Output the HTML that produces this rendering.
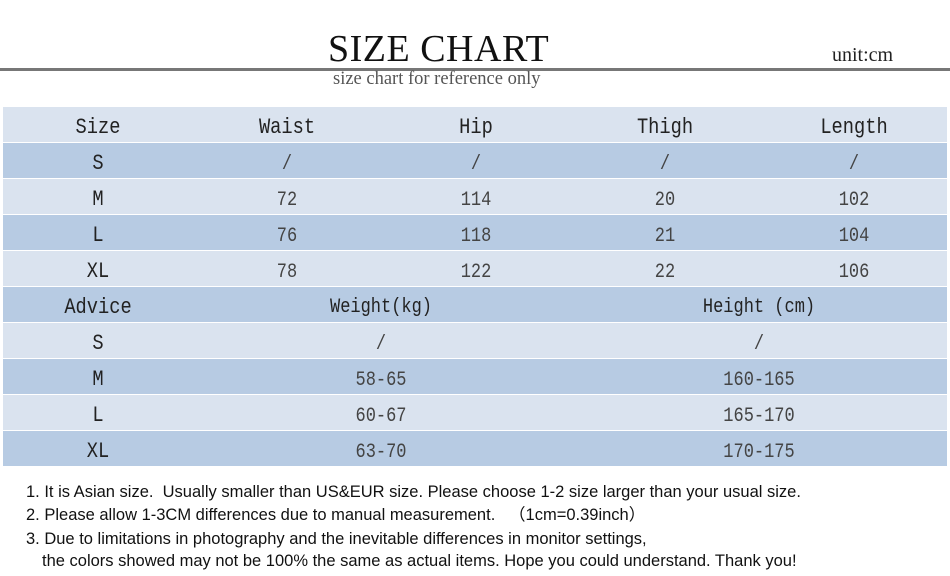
<!DOCTYPE html>
<html><head><meta charset="utf-8"><style>
body{margin:0;width:950px;height:576px;background:#fff;position:relative;overflow:hidden;font-family:"Liberation Serif",serif;}
.t{position:absolute;white-space:nowrap;}
.row{position:absolute;left:3px;width:944px;height:35px;}
.c{position:absolute;transform:translateX(-50%) scaleX(0.85);font-family:"Liberation Mono",monospace;font-size:22px;color:#222;top:8px;white-space:nowrap;}
.v{font-size:20px;color:#444;top:10px;}
.foot{position:absolute;left:26px;font-family:"Liberation Sans",sans-serif;font-size:16.5px;line-height:20px;height:20px;color:#111;white-space:nowrap;}
</style></head><body>
<div class="t" style="left:328px;top:27px;font-size:38px;color:#111;letter-spacing:0.5px">SIZE CHART</div>
<div class="t" style="left:832px;top:44px;font-size:20px;color:#222">unit:cm</div>
<div style="position:absolute;left:0;top:68px;width:950px;height:3px;background:#777"></div>
<div class="t" style="left:333px;top:69px;font-size:18.5px;color:#555">size chart for reference only</div>

<div class="row" style="top:107px;background:#dae3ef"><span class="c" style="left:95px">Size</span><span class="c" style="left:284px">Waist</span><span class="c" style="left:473px">Hip</span><span class="c" style="left:662px">Thigh</span><span class="c" style="left:851px">Length</span></div>
<div class="row" style="top:143px;background:#b7cbe3"><span class="c" style="left:95px">S</span><span class="c v" style="left:284px">/</span><span class="c v" style="left:473px">/</span><span class="c v" style="left:662px">/</span><span class="c v" style="left:851px">/</span></div>
<div class="row" style="top:179px;background:#dae3ef"><span class="c" style="left:95px">M</span><span class="c v" style="left:284px">72</span><span class="c v" style="left:473px">114</span><span class="c v" style="left:662px">20</span><span class="c v" style="left:851px">102</span></div>
<div class="row" style="top:215px;background:#b7cbe3"><span class="c" style="left:95px">L</span><span class="c v" style="left:284px">76</span><span class="c v" style="left:473px">118</span><span class="c v" style="left:662px">21</span><span class="c v" style="left:851px">104</span></div>
<div class="row" style="top:251px;background:#dae3ef"><span class="c" style="left:95px">XL</span><span class="c v" style="left:284px">78</span><span class="c v" style="left:473px">122</span><span class="c v" style="left:662px">22</span><span class="c v" style="left:851px">106</span></div>
<div class="row" style="top:287px;background:#b7cbe3"><span class="c" style="left:95px">Advice</span><span class="c" style="left:378px;font-size:20px;top:9px">Weight(kg)</span><span class="c" style="left:756px;font-size:20px;top:9px">Height (cm)</span></div>
<div class="row" style="top:323px;background:#dae3ef"><span class="c" style="left:95px">S</span><span class="c v" style="left:378px">/</span><span class="c v" style="left:756px">/</span></div>
<div class="row" style="top:359px;background:#b7cbe3"><span class="c" style="left:95px">M</span><span class="c v" style="left:378px">58-65</span><span class="c v" style="left:756px">160-165</span></div>
<div class="row" style="top:395px;background:#dae3ef"><span class="c" style="left:95px">L</span><span class="c v" style="left:378px">60-67</span><span class="c v" style="left:756px">165-170</span></div>
<div class="row" style="top:431px;background:#b7cbe3"><span class="c" style="left:95px">XL</span><span class="c v" style="left:378px">63-70</span><span class="c v" style="left:756px">170-175</span></div>

<div class="foot" style="top:482px">1. It is Asian size.&nbsp; Usually smaller than US&amp;EUR size. Please choose 1-2 size larger than your usual size.</div>
<div class="foot" style="top:505px">2. Please allow 1-3CM differences due to manual measurement.&nbsp;&nbsp; （1cm=0.39inch）</div>
<div class="foot" style="top:529px">3. Due to limitations in photography and the inevitable differences in monitor settings,</div>
<div class="foot" style="top:551px;left:42px">the colors showed may not be 100% the same as actual items. Hope you could understand. Thank you!</div>
</body></html>
